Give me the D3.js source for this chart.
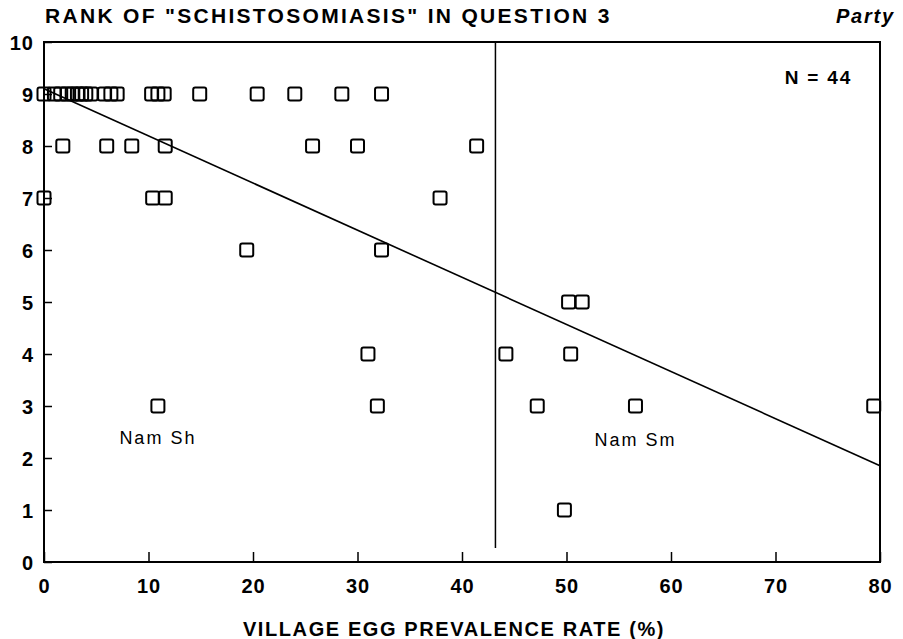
<!DOCTYPE html>
<html>
<head>
<meta charset="utf-8">
<script src="https://cdn.jsdelivr.net/npm/d3@7"></script>
<style>
  body { margin: 0; background: #fff; }
  text { font-family: "Liberation Sans", Arial, sans-serif; fill: #000; }
  .tick-label { font-size: 20px; font-weight: bold; letter-spacing: 1px; }
</style>
</head>
<body>
<div id="chart"></div>
<script>
const margin = { top: 42, right: 23, bottom: 77, left: 44 };
const width = 903 - margin.left - margin.right;
const height = 639 - margin.top - margin.bottom;

// village egg prevalence rate (%) and the rank given, one entry per village
const prevalence = [
  0, 1.0, 1.6, 2.2, 2.7, 3.2, 3.6, 4.0, 4.5, 5.8, 6.4, 7.0, 10.3, 10.9, 11.5, 14.9, 20.4, 24.0, 28.5, 32.3,
  1.8, 6.0, 8.4, 11.6, 25.7, 30.0, 41.4,
  0, 10.4, 11.6, 37.9,
  19.4, 32.3,
  50.2, 51.5,
  31.0, 44.2, 50.4,
  10.9, 31.9, 47.2, 56.6, 79.4,
  49.8
];
const rank = [
  9, 9, 9, 9, 9, 9, 9, 9, 9, 9, 9, 9, 9, 9, 9, 9, 9, 9, 9, 9,
  8, 8, 8, 8, 8, 8, 8,
  7, 7, 7, 7,
  6, 6,
  5, 5,
  4, 4, 4,
  3, 3, 3, 3, 3,
  1
];

const fitLine = [[0, 9.1], [80, 1.85]];
const dividerAt = 43.2;
const dividerRange = [0.27, 10];

const xTicks = [0, 10, 20, 30, 40, 50, 60, 70, 80];
const yTicks = [0, 1, 2, 3, 4, 5, 6, 7, 8, 9, 10];

const regionNames = ["Nam Sh", "Nam Sm"];
const regionX = [10.9, 56.6];
const regionY = [2.4, 2.35];

const x = d3.scaleLinear().domain([0, 80]).range([0, width]);
const y = d3.scaleLinear().domain([0, 10]).range([height, 0]);

const svg = d3.select("#chart")
  .append("svg")
    .attr("width", width + margin.left + margin.right)
    .attr("height", height + margin.top + margin.bottom)
  .append("g")
    .attr("transform", "translate(" + margin.left + "," + margin.top + ")");

// frame
svg.append("rect")
  .attr("width", width)
  .attr("height", height)
  .attr("fill", "none")
  .attr("stroke", "#000")
  .attr("stroke-width", 2);

// axes with inward ticks
const xAxis = d3.axisBottom(x).tickValues(xTicks).tickSize(-10).tickPadding(17).tickFormat(d3.format("d"));
const yAxis = d3.axisLeft(y).tickValues(yTicks).tickSize(-8).tickPadding(10).tickFormat(d3.format("d"));

const gx = svg.append("g")
  .attr("transform", "translate(0," + height + ")")
  .call(xAxis);
const gy = svg.append("g").call(yAxis);

[gx, gy].forEach(function(g) {
  g.select(".domain").remove();
  g.selectAll(".tick line").attr("stroke", "#000").attr("stroke-width", 1.5);
  g.selectAll(".tick text").attr("class", "tick-label").attr("font-family", null).attr("font-size", null);
});
gy.selectAll(".tick text").attr("dy", "0.36em");

// divider and fitted line
svg.append("line")
  .attr("x1", x(dividerAt)).attr("x2", x(dividerAt))
  .attr("y1", y(dividerRange[0])).attr("y2", y(dividerRange[1]))
  .attr("stroke", "#000").attr("stroke-width", 1.5);

svg.append("path")
  .datum(fitLine)
  .attr("d", d3.line().x(function(d) { return x(d[0]); }).y(function(d) { return y(d[1]); }))
  .attr("fill", "none")
  .attr("stroke", "#000")
  .attr("stroke-width", 1.6);

// points
const sq = 13;
svg.selectAll(".pt")
  .data(prevalence.map(function(v, i) { return [v, rank[i]]; }))
  .enter().append("rect")
    .attr("class", "pt")
    .attr("x", function(d) { return x(d[0]) - sq / 2; })
    .attr("y", function(d) { return y(d[1]) - sq / 2; })
    .attr("width", sq)
    .attr("height", sq)
    .attr("rx", 2)
    .attr("fill", "none")
    .attr("stroke", "#000")
    .attr("stroke-width", 2);

svg.selectAll(".region")
  .data(regionNames)
  .enter().append("text")
    .attr("class", "region")
    .attr("x", function(d, i) { return x(regionX[i]); })
    .attr("y", function(d, i) { return y(regionY[i]); })
    .attr("dy", "0.35em")
    .attr("text-anchor", "middle")
    .attr("font-size", 18)
    .attr("letter-spacing", 2)
    .text(function(d) { return d; });

// titles
svg.append("text")
  .attr("x", 1)
  .attr("y", -19)
  .attr("font-size", 21)
  .attr("font-weight", "bold")
  .attr("letter-spacing", 2.3)
  .text("RANK OF \"SCHISTOSOMIASIS\" IN QUESTION 3");

svg.append("text")
  .attr("x", width + 15)
  .attr("y", -19)
  .attr("text-anchor", "end")
  .attr("font-size", 20)
  .attr("font-weight", "bold")
  .attr("font-style", "italic")
  .attr("letter-spacing", 1.8)
  .text("Party");

svg.append("text")
  .attr("x", width - 28)
  .attr("y", 42)
  .attr("text-anchor", "end")
  .attr("font-size", 19)
  .attr("font-weight", "bold")
  .attr("letter-spacing", 1.8)
  .text("N = 44");

svg.append("text")
  .attr("x", width / 2 - 8)
  .attr("y", height + 74)
  .attr("text-anchor", "middle")
  .attr("font-size", 20)
  .attr("font-weight", "bold")
  .attr("letter-spacing", 1.6)
  .text("VILLAGE EGG PREVALENCE RATE (%)");
</script>
</body>
</html>
